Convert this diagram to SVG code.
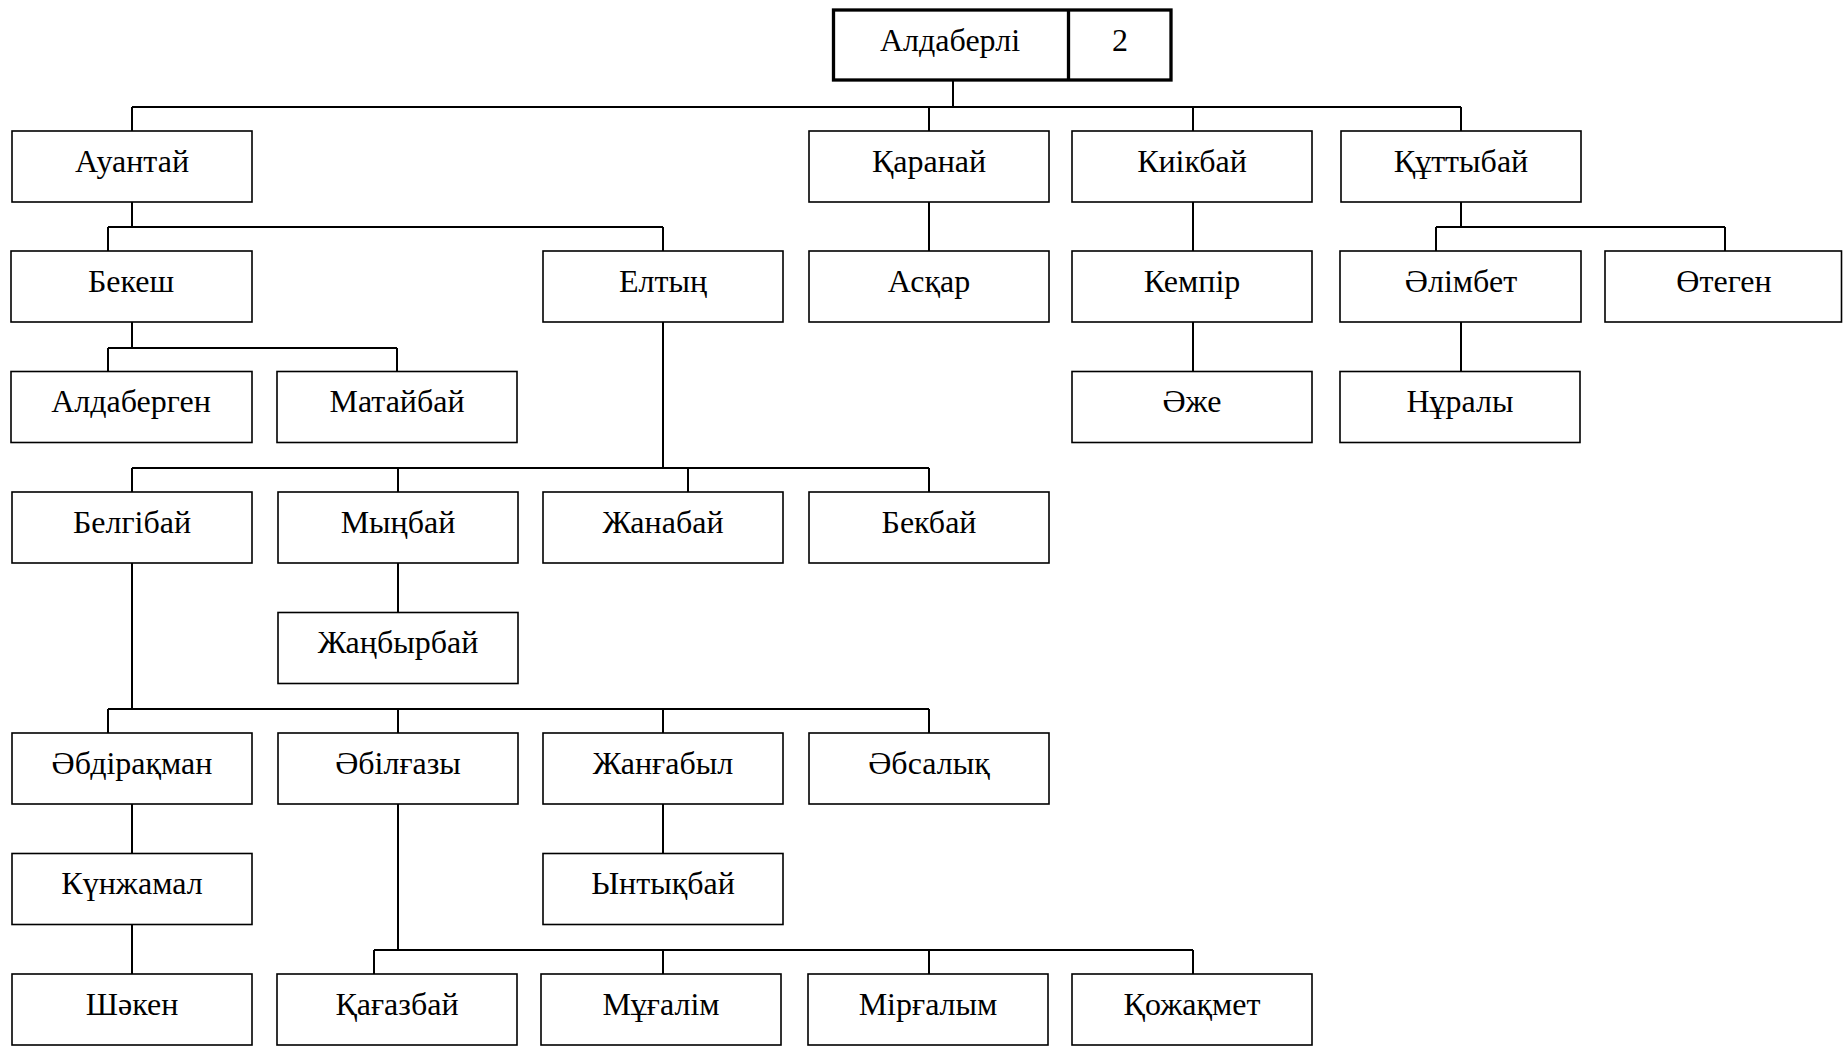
<svg xmlns="http://www.w3.org/2000/svg" width="1843" height="1049" viewBox="0 0 1843 1049">
<style>
.b rect{fill:#fff;stroke:#000;stroke-width:1.6}
.b text{font-family:"Liberation Serif","Times New Roman",serif;font-size:32px;text-anchor:middle;fill:#000}
#conn path{fill:none;stroke:#000;stroke-width:2}
</style>
<rect width="1843" height="1049" fill="#fff"/>
<g id="conn">
<path d="M953 80V107M132 107H1461M132 107V131M929 107V131M1193 107V131M1461 107V131"/>
<path d="M132 202V227M108 227H663M108 227V251M663 227V251"/>
<path d="M132 322V348M108 348H397M108 348V371.5M397 348V371.5"/>
<path d="M663 322V468M132 468H929M132 468V492M398 468V492M688 468V492M929 468V492"/>
<path d="M398 563V612.5"/>
<path d="M132 563V709M108 709H929M108 709V733M398 709V733M663 709V733M929 709V733"/>
<path d="M132 804V853.5M132 924.5V974"/>
<path d="M398 804V950M374 950H1193M374 950V974M663 950V974M929 950V974M1193 950V974"/>
<path d="M663 804V853.5"/>
<path d="M929 202V251M1193 202V251M1193 322V371.5"/>
<path d="M1461 202V227M1436 227H1725M1436 227V251M1725 227V251M1461 322V371.5"/>
</g>
<g id="root" class="b">
<rect x="833.5" y="10" width="337.5" height="70" style="stroke-width:3.3"/>
<path d="M1068.5 10V80" stroke="#000" stroke-width="3.3"/>
<text x="950" y="51">Алдаберлі</text>
<text x="1120" y="51">2</text>
</g>
<g id="n-auantai" class="b"><rect x="12" y="131" width="240" height="71"/><text x="132" y="171.5">Ауантай</text></g>
<g id="n-karanai" class="b"><rect x="809" y="131" width="240" height="71"/><text x="929" y="171.5">Қаранай</text></g>
<g id="n-kiikbai" class="b"><rect x="1072" y="131" width="240" height="71"/><text x="1192" y="171.5">Киікбай</text></g>
<g id="n-kuttybai" class="b"><rect x="1341" y="131" width="240" height="71"/><text x="1461" y="171.5">Құттыбай</text></g>
<g id="n-bekesh" class="b"><rect x="11" y="251" width="241" height="71"/><text x="131" y="291.5">Бекеш</text></g>
<g id="n-eltyn" class="b"><rect x="543" y="251" width="240" height="71"/><text x="663" y="291.5">Елтың</text></g>
<g id="n-askar" class="b"><rect x="809" y="251" width="240" height="71"/><text x="929" y="291.5">Асқар</text></g>
<g id="n-kempir" class="b"><rect x="1072" y="251" width="240" height="71"/><text x="1192" y="291.5">Кемпір</text></g>
<g id="n-alimbet" class="b"><rect x="1340" y="251" width="241" height="71"/><text x="1461" y="291.5">Әлімбет</text></g>
<g id="n-otegen" class="b"><rect x="1605" y="251" width="236.5" height="71"/><text x="1724" y="291.5">Өтеген</text></g>
<g id="n-aldabergen" class="b"><rect x="11" y="371.5" width="241" height="71"/><text x="131" y="412">Алдаберген</text></g>
<g id="n-mataibai" class="b"><rect x="277" y="371.5" width="240" height="71"/><text x="397" y="412">Матайбай</text></g>
<g id="n-azhe" class="b"><rect x="1072" y="371.5" width="240" height="71"/><text x="1192" y="412">Әже</text></g>
<g id="n-nuraly" class="b"><rect x="1340" y="371.5" width="240" height="71"/><text x="1460" y="412">Нұралы</text></g>
<g id="n-belgibai" class="b"><rect x="12" y="492" width="240" height="71"/><text x="132" y="532.5">Белгібай</text></g>
<g id="n-mynbai" class="b"><rect x="278" y="492" width="240" height="71"/><text x="398" y="532.5">Мыңбай</text></g>
<g id="n-zhanabai" class="b"><rect x="543" y="492" width="240" height="71"/><text x="663" y="532.5">Жанабай</text></g>
<g id="n-bekbai" class="b"><rect x="809" y="492" width="240" height="71"/><text x="929" y="532.5">Бекбай</text></g>
<g id="n-zhanbyrbai" class="b"><rect x="278" y="612.5" width="240" height="71"/><text x="398" y="653">Жаңбырбай</text></g>
<g id="n-abdirakman" class="b"><rect x="12" y="733" width="240" height="71"/><text x="132" y="773.5">Әбдірақман</text></g>
<g id="n-abilgazy" class="b"><rect x="278" y="733" width="240" height="71"/><text x="398" y="773.5">Әбілғазы</text></g>
<g id="n-zhangabyl" class="b"><rect x="543" y="733" width="240" height="71"/><text x="663" y="773.5">Жанғабыл</text></g>
<g id="n-absalyk" class="b"><rect x="809" y="733" width="240" height="71"/><text x="929" y="773.5">Әбсалық</text></g>
<g id="n-kunzhamal" class="b"><rect x="12" y="853.5" width="240" height="71"/><text x="132" y="894">Күнжамал</text></g>
<g id="n-yntykbai" class="b"><rect x="543" y="853.5" width="240" height="71"/><text x="663" y="894">Ынтықбай</text></g>
<g id="n-shaken" class="b"><rect x="12" y="974" width="240" height="71"/><text x="132" y="1014.5">Шәкен</text></g>
<g id="n-kagazbai" class="b"><rect x="277" y="974" width="240" height="71"/><text x="397" y="1014.5">Қағазбай</text></g>
<g id="n-mugalim" class="b"><rect x="541" y="974" width="240" height="71"/><text x="661" y="1014.5">Мұғалім</text></g>
<g id="n-mirgalym" class="b"><rect x="808" y="974" width="240" height="71"/><text x="928" y="1014.5">Мірғалым</text></g>
<g id="n-kozhakmet" class="b"><rect x="1072" y="974" width="240" height="71"/><text x="1192" y="1014.5">Қожақмет</text></g>
</svg>
